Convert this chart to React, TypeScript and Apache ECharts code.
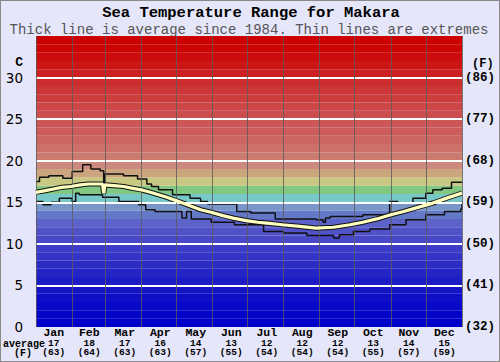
import React, { useEffect, useRef } from "react";
import * as echarts from "echarts";

const months = ["Jan", "Feb", "Mar", "Apr", "May", "Jun", "Jul", "Aug", "Sep", "Oct", "Nov", "Dec"];
const monthDays = [31, 28, 31, 30, 31, 30, 31, 31, 30, 31, 30, 31];
const avgC = [17, 18, 17, 16, 14, 13, 12, 12, 12, 13, 14, 15];
const avgF = [63, 64, 63, 63, 57, 55, 54, 54, 54, 55, 57, 59];

// [dayOfYear, °C]
const avgLine: [number, number][] = [
  [0, 16.2], [8, 16.4], [15, 16.6], [22, 16.8], [30, 16.9], [38, 17.1], [45, 17.2], [57, 17.2], [58, 16.1], [59, 17.1],
  [67, 17.0], [75, 16.9], [82, 16.7], [90, 16.5], [98, 16.2], [105, 15.9], [112, 15.6], [120, 15.2], [128, 14.8], [141, 14.1], [150, 13.8],
  [160, 13.4], [169, 13.1], [180, 12.8], [190, 12.6], [198, 12.5], [211, 12.3], [226, 12.1], [240, 11.9], [255, 12.0],
  [269, 12.3], [280, 12.6], [292, 13.0], [304, 13.5], [315, 13.9], [325, 14.3], [340, 14.9],
  [352, 15.5], [365, 16.1],
];
const maxLine: [number, number][] = [
  [0, 17.5], [3, 18.0], [11, 18.2], [23, 17.9], [31, 18.7], [40, 19.5], [47, 19.0],
  [55, 18.8], [58, 16.2], [59, 18.4], [75, 18.2], [87, 17.8], [95, 17.2], [99, 16.9],
  [105, 16.5], [117, 15.9], [132, 15.5], [141, 15.1], [147, 14.8], [172, 13.9], [184, 13.7],
  [205, 13.0], [240, 12.9], [246, 12.6], [248, 13.1], [252, 13.3], [280, 13.5], [303, 15.1],
  [310, 14.9], [323, 15.5], [334, 16.1], [340, 16.5], [348, 16.7], [356, 17.4], [365, 17.4],
];
const minLine: [number, number][] = [
  [0, 15.1], [6, 14.7], [13, 15.0], [20, 15.5], [31, 15.1], [34, 16.1], [37, 15.9],
  [57, 15.6], [71, 15.1], [88, 14.7], [94, 14.1], [102, 13.9], [125, 13.1], [129, 13.9],
  [133, 13.0], [150, 12.6], [170, 12.3], [195, 11.5], [212, 11.3], [232, 11.0], [255, 10.7],
  [260, 11.1], [272, 11.5], [286, 11.8], [303, 12.3], [317, 12.9], [334, 13.5], [350, 13.9],
  [364, 14.2], [365, 15.1],
];

const bandColors = [
  "#0000c8", "#0404c8", "#0808c8", "#0e0ec6", "#1414c4",
  "#1c1cc4", "#2424c4", "#2c2cc4", "#3434c6", "#3c3cc8",
  "#4848c8", "#5252c8", "#5c62c8", "#6478c8", "#7896c8",
  "#78c8c8", "#82c882", "#c8c882", "#cca47e", "#cc8a7e",
  "#cc7a70", "#cc7068", "#cc6662", "#cc5c5c", "#cc5656",
  "#cc4e4e", "#cc4646", "#cc3e3e", "#cc3636", "#cc2e2e",
  "#cc2020", "#cc1616", "#cc0c0c", "#cc0404", "#cc0000",
];

export default function App() {
  const ref = useRef<HTMLDivElement>(null);
  useEffect(() => {
    if (!ref.current) return;
    const chart = echarts.init(ref.current, undefined, { renderer: "svg" });
    const bounds: number[] = [0];
    monthDays.forEach((d) => bounds.push(bounds[bounds.length - 1] + d));
    const mono = "'Liberation Mono', 'DejaVu Sans Mono', monospace";

    const bands = bandColors.map((c, i) => [
      { yAxis: i, itemStyle: { color: c } },
      { yAxis: i + 1 },
    ]);
    const hLines = [5, 10, 15, 20, 25, 30].map((v) => ({
      yAxis: v,
      lineStyle: { color: "#ffffff", width: 2, type: "solid" },
    }));
    const vLines = bounds.map((d) => ({
      xAxis: d,
      lineStyle: { color: "#5a5a5a", width: 1, type: "solid", opacity: 0.8 },
    }));

    chart.setOption({
      animation: false,
      backgroundColor: "#e6e6fa",
      grid: { left: 35, right: 37, top: 35, bottom: 34 },
      xAxis: [
        { type: "value", min: 0, max: 365, show: false },
        {
          type: "category",
          data: months,
          position: "bottom",
          axisLine: { show: false },
          axisTick: { show: false },
          splitLine: { show: false },
          axisLabel: {
            margin: 0,
            interval: 0,
            formatter: (v: string, i: number) => `{m|${v}}\n{v|${avgC[i]}}\n{v|(${avgF[i]})}`,
            rich: {
              m: { fontFamily: mono, fontWeight: "bold", fontSize: 11.5, lineHeight: 11.5, color: "#000" },
              v: { fontFamily: mono, fontWeight: "bold", fontSize: 9.5, lineHeight: 9.5, color: "#000" },
            },
          },
        },
      ],
      yAxis: [
        {
          type: "value",
          min: 0,
          max: 35,
          interval: 5,
          position: "left",
          axisLine: { show: false },
          axisTick: { show: false },
          splitLine: { show: false },
          axisLabel: {
            margin: 13,
            fontFamily: "'DejaVu Sans', sans-serif",
            fontSize: 13.5,
            color: "#000",
            formatter: (v: number) => (v > 30 ? "" : String(v)),
          },
        },
        {
          type: "value",
          min: 0,
          max: 35,
          interval: 5,
          position: "right",
          axisLine: { show: false },
          axisTick: { show: false },
          splitLine: { show: false },
          axisLabel: {
            margin: 3,
            fontFamily: mono,
            fontWeight: "bold",
            fontSize: 12.5,
            color: "#000",
            formatter: (v: number) => (v > 30 ? "" : `(${Math.round((v * 9) / 5 + 32)})`),
          },
        },
      ],
      graphic: [
        {
          type: "text",
          x: 250,
          y: 12,
          style: {
            text: "Sea Temperature Range for Makara",
            font: `bold 15.5px ${mono}`,
            fill: "#000",
            align: "center",
            verticalAlign: "middle",
          },
        },
        {
          type: "text",
          x: 248,
          y: 29,
          style: {
            text: "Thick line is average since 1984. Thin lines are extremes",
            font: `14px ${mono}`,
            fill: "#555",
            align: "center",
            verticalAlign: "middle",
          },
        },
        {
          type: "text",
          x: 22,
          y: 61,
          style: { text: "C", font: `bold 13px ${mono}`, fill: "#000", align: "right", verticalAlign: "middle" },
        },
        {
          type: "text",
          x: 471,
          y: 63,
          style: { text: "(F)", font: `bold 12px ${mono}`, fill: "#000", align: "left", verticalAlign: "middle" },
        },
        {
          type: "text",
          x: 2,
          y: 343,
          style: { text: "average", font: `bold 10px ${mono}`, fill: "#000", align: "left", verticalAlign: "middle" },
        },
        {
          type: "text",
          x: 22,
          y: 352.5,
          style: { text: "(F)", font: `bold 10px ${mono}`, fill: "#000", align: "center", verticalAlign: "middle" },
        },
      ],
      series: [
        {
          type: "line",
          xAxisIndex: 0,
          yAxisIndex: 0,
          data: [[0, 0]],
          symbol: "none",
          lineStyle: { opacity: 0 },
          silent: true,
          z: 1,
          markArea: { silent: true, data: bands },
        },
        {
          type: "line",
          xAxisIndex: 0,
          yAxisIndex: 0,
          data: [[0, 0]],
          symbol: "none",
          lineStyle: { opacity: 0 },
          silent: true,
          z: 2,
          markLine: { silent: true, symbol: "none", label: { show: false }, data: [...hLines, ...vLines] },
        },
        {
          type: "line",
          xAxisIndex: 0,
          yAxisIndex: 0,
          data: maxLine,
          step: "end",
          symbol: "none",
          lineStyle: { color: "#111", width: 1.5 },
          z: 3,
        },
        {
          type: "line",
          xAxisIndex: 0,
          yAxisIndex: 0,
          data: minLine,
          step: "end",
          symbol: "none",
          lineStyle: { color: "#111", width: 1.5 },
          z: 3,
        },
        {
          type: "line",
          xAxisIndex: 0,
          yAxisIndex: 0,
          data: avgLine,
          symbol: "none",
          lineStyle: { color: "#111", width: 5.2 },
          z: 4,
        },
        {
          type: "line",
          xAxisIndex: 0,
          yAxisIndex: 0,
          data: avgLine,
          symbol: "none",
          lineStyle: { color: "#ffffc0", width: 3.2 },
          z: 5,
        },
      ],
    });
    return () => chart.dispose();
  }, []);
  return (
    <div
      ref={ref}
      style={{
        position: "absolute",
        left: 0,
        top: 0,
        width: 500,
        height: 362,
        boxSizing: "border-box",
        border: "1px solid #8a8a8a",
      }}
    />
  );
}
